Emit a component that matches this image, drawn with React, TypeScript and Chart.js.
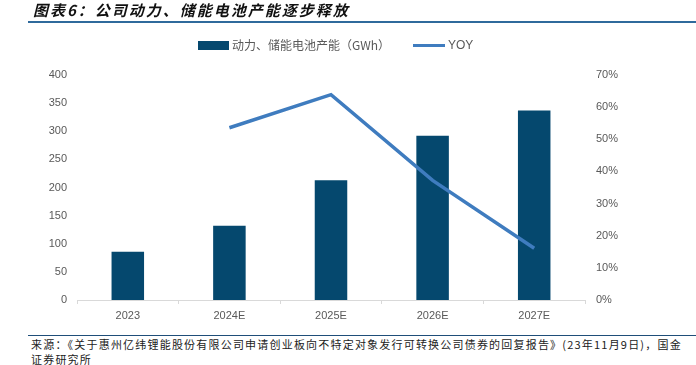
import React, { useEffect, useRef } from "react";
import { Chart, registerables } from "chart.js";

Chart.register(...registerables);

const categories = ["2023", "2024E", "2025E", "2026E", "2027E"];
const capacity = [86, 132, 213, 292, 337];
const yoy = [null, 53.6, 63.9, 37.2, 16.1];
const leftTicks = [0, 400, 50];
const rightTicks = [0, 70, 10];

const titleText = "图表6：公司动力、储能电池产能逐步释放";
const barLabel = "动力、储能电池产能（GWh）";
const lineLabel = "YOY";
const sourceLine1 = "来源：《关于惠州亿纬锂能股份有限公司申请创业板向不特定对象发行可转换公司债券的回复报告》(23年11月9日)，国金";
const sourceLine2 = "证券研究所";

const BAR_COLOR = "#05486e";
const LINE_COLOR = "#3f7cbf";
const TICK_COLOR = "#595959";
const TICK_FONT = { family: "'Liberation Sans', Arial, sans-serif", size: 11 };

export default function App() {
  const ref = useRef<HTMLCanvasElement | null>(null);

  useEffect(() => {
    document.body.style.margin = "0";
    if (!ref.current) return;
    const chart = new Chart(ref.current, {
      type: "bar",
      data: {
        labels: categories,
        datasets: [
          {
            type: "line",
            label: lineLabel,
            data: yoy,
            yAxisID: "y1",
            borderColor: LINE_COLOR,
            backgroundColor: LINE_COLOR,
            borderWidth: 3.5,
            pointRadius: 0,
            tension: 0,
            order: 0,
          } as any,
          {
            type: "bar",
            label: barLabel,
            data: capacity,
            yAxisID: "y",
            backgroundColor: BAR_COLOR,
            categoryPercentage: 1,
            barPercentage: 0.32,
            order: 1,
          },
        ],
      },
      options: {
        animation: false,
        responsive: false,
        maintainAspectRatio: false,
        layout: { padding: { top: 75, left: 0, right: 0, bottom: 0 } },
        plugins: { legend: { display: false }, tooltip: { enabled: false } },
        scales: {
          x: {
            grid: {
              display: true,
              drawOnChartArea: false,
              drawTicks: true,
              tickLength: 4,
              offset: true,
              color: "#d9d9d9",
            },
            border: { display: true, color: "#d9d9d9" },
            ticks: { color: TICK_COLOR, font: TICK_FONT, padding: 5 },
            afterFit: (s: any) => {
              s.height = 30;
            },
          },
          y: {
            position: "left",
            min: leftTicks[0],
            max: leftTicks[1],
            ticks: { stepSize: leftTicks[2], color: TICK_COLOR, font: TICK_FONT, padding: 10 },
            grid: { display: false, drawTicks: false },
            border: { display: false },
            afterFit: (s: any) => {
              s.width = 77;
            },
          },
          y1: {
            position: "right",
            min: rightTicks[0],
            max: rightTicks[1],
            ticks: {
              stepSize: rightTicks[2],
              color: TICK_COLOR,
              font: TICK_FONT,
              padding: 11,
              callback: (v: any) => v + "%",
            },
            grid: { display: false, drawTicks: false },
            border: { display: false },
            afterFit: (s: any) => {
              s.width = 111;
            },
          },
        },
      },
    });
    return () => chart.destroy();
  }, []);

  const cjk = "'Noto Sans CJK SC', 'Noto Sans', sans-serif";

  return (
    <div style={{ position: "absolute", left: 0, top: 0, width: 696, height: 365, background: "#fff", overflow: "hidden" }}>
      <canvas ref={ref} width={696} height={330} style={{ position: "absolute", left: 0, top: 0, width: 696, height: 330 }} />
      <div
        style={{
          position: "absolute",
          left: 33,
          top: 1,
          fontFamily: cjk,
          fontWeight: 700,
          fontStyle: "italic",
          fontSize: 15,
          letterSpacing: 2,
          lineHeight: "18px",
          color: "#111",
          whiteSpace: "nowrap",
        }}
      >
        {titleText}
      </div>
      <div style={{ position: "absolute", left: 28, top: 21, width: 668, height: 2, background: "#2f6a9c" }} />
      <div style={{ position: "absolute", left: 198, top: 41, width: 31, height: 9, background: BAR_COLOR }} />
      <div
        style={{
          position: "absolute",
          left: 232,
          top: 37,
          fontFamily: cjk,
          fontSize: 12,
          lineHeight: "16px",
          color: TICK_COLOR,
          whiteSpace: "nowrap",
        }}
      >
        {barLabel}
      </div>
      <div style={{ position: "absolute", left: 413, top: 44, width: 32, height: 3, background: LINE_COLOR }} />
      <div
        style={{
          position: "absolute",
          left: 448,
          top: 37,
          fontFamily: "'Liberation Sans', Arial, sans-serif",
          fontSize: 12,
          lineHeight: "16px",
          color: TICK_COLOR,
          whiteSpace: "nowrap",
        }}
      >
        {lineLabel}
      </div>
      <div style={{ position: "absolute", left: 28, top: 335, width: 668, height: 1, background: "#1f4e79" }} />
      <div
        style={{
          position: "absolute",
          left: 31,
          top: 337,
          fontFamily: cjk,
          fontSize: 11,
          letterSpacing: 1.2,
          lineHeight: "15px",
          color: "#222",
          whiteSpace: "nowrap",
        }}
      >
        {sourceLine1}
        <br />
        {sourceLine2}
      </div>
    </div>
  );
}
